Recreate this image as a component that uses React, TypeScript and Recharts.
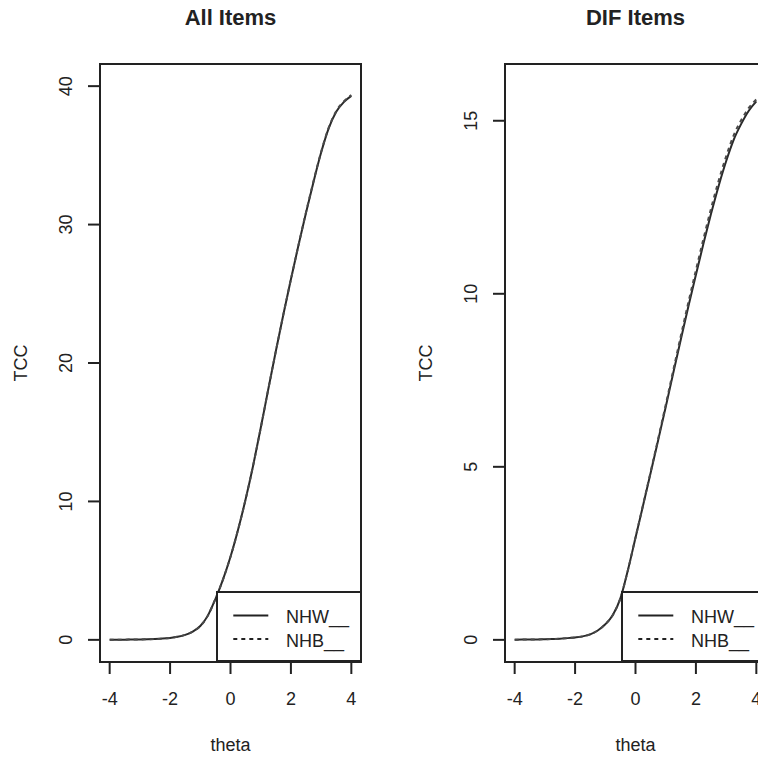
import React from 'react';
import { LineChart, Line, XAxis, YAxis, ReferenceArea, Legend } from 'recharts';

const FONT = '"Liberation Sans", Arial, Helvetica, sans-serif';
const INK = '#222';

// theta grid (categories)
const theta = [-4, -3.75, -3.5, -3.25, -3, -2.75, -2.5, -2.25, -2, -1.75, -1.5, -1.25, -1, -0.75, -0.5, -0.25, 0, 0.25, 0.5, 0.75, 1, 1.25, 1.5, 1.75, 2, 2.25, 2.5, 2.75, 3, 3.25, 3.5, 3.75, 4];

// All Items TCC
const allNHW = [0.01, 0.012, 0.015, 0.02, 0.03, 0.04, 0.06, 0.09, 0.14, 0.22, 0.36, 0.6, 1.0, 1.75, 2.95, 4.35, 6.0, 7.95, 10.15, 12.6, 15.3, 18.1, 20.85, 23.5, 26.05, 28.5, 30.85, 33.1, 35.2, 36.95, 38.15, 38.85, 39.3];
const allNHB = [0.01, 0.012, 0.015, 0.02, 0.03, 0.04, 0.06, 0.09, 0.14, 0.22, 0.36, 0.6, 1.0, 1.75, 2.95, 4.35, 6.0, 7.95, 10.15, 12.6, 15.3, 18.1, 20.85, 23.5, 26.05, 28.5, 30.9, 33.15, 35.25, 37.0, 38.2, 38.9, 39.35];

// DIF Items TCC
const difNHW = [0.005, 0.007, 0.01, 0.013, 0.018, 0.025, 0.035, 0.05, 0.07, 0.1, 0.16, 0.27, 0.45, 0.72, 1.2, 2.02, 2.95, 3.88, 4.82, 5.77, 6.73, 7.71, 8.68, 9.63, 10.55, 11.45, 12.31, 13.11, 13.83, 14.45, 14.91, 15.29, 15.56];
const difNHB = [0.005, 0.007, 0.01, 0.013, 0.018, 0.025, 0.035, 0.05, 0.07, 0.1, 0.16, 0.27, 0.45, 0.72, 1.2, 2.02, 2.96, 3.9, 4.85, 5.81, 6.79, 7.79, 8.78, 9.75, 10.68, 11.59, 12.46, 13.26, 13.97, 14.58, 15.02, 15.37, 15.62];

const xTicks = [-4, -2, 0, 2, 4];
const allYTicks = [0, 10, 20, 30, 40];
const difYTicks = [0, 5, 10, 15];
const seriesNames = ['NHW__', 'NHB__'];

const CHART_W = 400;
const CHART_H = 760;
const PLOT_TOP = 64;
const PLOT_BOTTOM = 662;
const PLOT_W = 261;

type PanelProps = {
  title: string;
  nhw: number[];
  nhb: number[];
  yMax: number;
  yTicks: number[];
  boxLeft: number;
};

const Panel = ({ title, nhw, nhb, yMax, yTicks, boxLeft }: PanelProps) => {
  const data = theta.map((t, i) => ({ theta: t, nhw: nhw[i], nhb: nhb[i] }));
  const pad = yMax * 0.04;
  const yDomain = [-pad, yMax + pad];
  const xDomain = [-4.32, 4.32];
  const boxRight = boxLeft + PLOT_W;
  const cx = boxLeft + PLOT_W / 2;
  const cy = (PLOT_TOP + PLOT_BOTTOM) / 2;

  const YTick = (p: any) => {
    const bx = boxLeft - 28.3;
    return (
      <text x={bx} y={p.y} transform={`rotate(-90 ${bx} ${p.y})`} textAnchor="middle" fontSize={18} fill={INK} fontFamily={FONT}>
        {p.payload.value}
      </text>
    );
  };
  const XTick = (p: any) => (
    <text x={p.x} y={PLOT_BOTTOM + 43} textAnchor="middle" fontSize={18} fill={INK} fontFamily={FONT}>
      {p.payload.value}
    </text>
  );
  const TccLabel = () => {
    const bx = boxLeft - 73.3;
    return (
      <text x={bx} y={cy} transform={`rotate(-90 ${bx} ${cy})`} textAnchor="middle" fontSize={18} fill={INK} fontFamily={FONT}>
        TCC
      </text>
    );
  };
  const ThetaLabel = () => (
    <text x={cx} y={751} textAnchor="middle" fontSize={18} fill={INK} fontFamily={FONT}>
      theta
    </text>
  );

  const LegendContent = (props: any) => {
    const payload = [...(props.payload || [])].sort(
      (a: any, b: any) => seriesNames.indexOf(a.value) - seriesNames.indexOf(b.value)
    );
    return (
      <div style={{ width: 146, height: 71, boxSizing: 'border-box', border: `2px solid ${INK}`, background: '#fff', position: 'relative' }}>
        <svg width={146} height={71} style={{ position: 'absolute', left: -2, top: -2 }}>
          {payload.map((e: any, i: number) => (
            <g key={i}>
              <line x1={17.3} x2={52.3} y1={24.4 + i * 23.6} y2={24.4 + i * 23.6} stroke={INK} strokeWidth={2} strokeDasharray={e.payload && e.payload.strokeDasharray} />
              <text x={70} y={32 + i * 23.7} fontSize={18} fill={INK} fontFamily={FONT}>
                {e.value}
              </text>
            </g>
          ))}
        </svg>
      </div>
    );
  };

  return (
    <div style={{ position: 'relative', width: CHART_W, height: CHART_H }}>
      <div style={{ position: 'absolute', left: cx - 100, top: 7.4, width: 200, textAlign: 'center', fontSize: 22, lineHeight: '22px', fontWeight: 'bold', color: INK, fontFamily: FONT }}>
        {title}
      </div>
      <LineChart
        width={CHART_W}
        height={CHART_H}
        data={data}
        margin={{ top: PLOT_TOP, right: CHART_W - boxRight, bottom: CHART_H - PLOT_BOTTOM - 60, left: boxLeft - 60 }}
      >
        <XAxis
          dataKey="theta"
          type="number"
          domain={xDomain}
          ticks={xTicks}
          allowDataOverflow
          height={60}
          axisLine={false}
          tickLine={{ stroke: INK, strokeWidth: 2 }}
          tickSize={12}
          tick={<XTick />}
          label={<ThetaLabel />}
        />
        <YAxis
          type="number"
          domain={yDomain}
          ticks={yTicks}
          allowDataOverflow
          width={60}
          axisLine={false}
          tickLine={{ stroke: INK, strokeWidth: 2 }}
          tickSize={12}
          tick={<YTick />}
          label={<TccLabel />}
        />
        <ReferenceArea x1={xDomain[0]} x2={xDomain[1]} y1={yDomain[0]} y2={yDomain[1]} fill="none" fillOpacity={0} stroke={INK} strokeWidth={2} ifOverflow="visible" />
        <Line dataKey="nhw" name={seriesNames[0]} type="monotone" stroke="#2a2a2a" strokeWidth={2} dot={false} isAnimationActive={false} />
        <Line dataKey="nhb" name={seriesNames[1]} type="monotone" stroke="#4a4a4a" strokeWidth={2} strokeDasharray="4 4" dot={false} isAnimationActive={false} />
        <Legend
          layout="vertical"
          align="center"
          verticalAlign="middle"
          wrapperStyle={{ position: 'absolute', left: boxRight - 145.3, top: 591.3, width: 146, height: 71 }}
          content={<LegendContent />}
        />
      </LineChart>
    </div>
  );
};

export default function App() {
  return (
    <div style={{ position: 'absolute', left: 0, top: 0, width: 758, height: 760, overflow: 'hidden', background: '#fff' }}>
      <div style={{ position: 'absolute', left: 0, top: 0 }}>
        <Panel title="All Items" nhw={allNHW} nhb={allNHB} yMax={40} yTicks={allYTicks} boxLeft={100} />
      </div>
      <div style={{ position: 'absolute', left: 400, top: 0 }}>
        <Panel title="DIF Items" nhw={difNHW} nhb={difNHB} yMax={16} yTicks={difYTicks} boxLeft={105} />
      </div>
    </div>
  );
}
